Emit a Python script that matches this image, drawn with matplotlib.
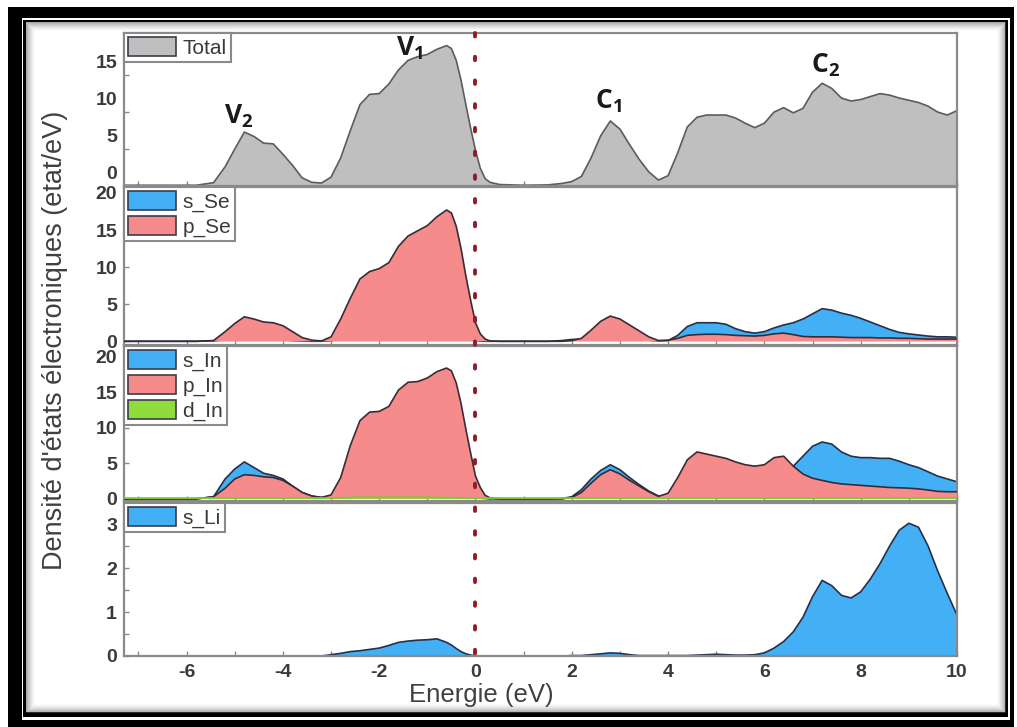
import matplotlib
matplotlib.use("Agg")
import matplotlib.pyplot as plt
from matplotlib.patches import Rectangle, Patch
from matplotlib.lines import Line2D
from matplotlib.ticker import MultipleLocator, FixedLocator
from matplotlib.transforms import ScaledTranslation, blended_transform_factory

plt.rcParams["font.family"] = ["Liberation Sans", "DejaVu Sans"]
plt.rcParams["axes.unicode_minus"] = False
plt.rcParams["mathtext.fontset"] = "custom"
plt.rcParams["mathtext.bf"] = "Open Sans:bold"
plt.rcParams["mathtext.rm"] = "Open Sans"

# ---------------- data ----------------
energy = [-7.3, -5.8, -5.44, -5.2, -5.0, -4.8, -4.6, -4.4, -4.2, -4.0,
          -3.8, -3.6, -3.4, -3.2, -3.0, -2.8, -2.6, -2.4, -2.2, -2.0,
          -1.8, -1.6, -1.4, -1.2, -1.0, -0.8, -0.6, -0.5, -0.4, -0.3,
          -0.2, -0.1, 0.0, 0.1, 0.2, 0.3, 0.5, 1.0, 1.5, 1.8,
          2.0, 2.2, 2.4, 2.6, 2.8, 3.0, 3.2, 3.4, 3.6, 3.8,
          4.0, 4.2, 4.4, 4.6, 4.8, 5.0, 5.2, 5.4, 5.6, 5.8,
          6.0, 6.2, 6.4, 6.6, 6.8, 7.0, 7.2, 7.4, 7.6, 7.8,
          8.0, 8.2, 8.4, 8.6, 8.8, 9.0, 9.2, 9.4, 9.6, 9.8, 10.0]

dos_total = [0.1, 0.1, 0.45, 2.6, 5.0, 7.3, 6.7, 5.8, 5.7, 4.3,
             2.8, 1.1, 0.5, 0.4, 1.2, 3.8, 7.5, 11.0, 12.4, 12.5,
             13.8, 15.7, 17.0, 17.5, 17.8, 18.5, 19.0, 18.6, 17.0, 14.3,
             11.0, 7.8, 4.8, 2.4, 1.0, 0.5, 0.2, 0.1, 0.15, 0.35,
             0.6, 1.3, 3.8, 6.8, 8.8, 7.7, 5.6, 3.6, 1.9, 0.8,
             1.4, 4.5, 8.0, 9.3, 9.6, 9.6, 9.6, 9.2, 8.5, 7.9,
             8.5, 10.0, 10.6, 9.9, 10.5, 12.7, 13.9, 13.2, 11.9, 11.5,
             11.7, 12.1, 12.5, 12.3, 11.9, 11.6, 11.3, 10.8, 10.0, 9.6, 10.2]

s_se = [0.0, 0.0, 0.05, 0.2, 0.3, 0.4, 0.35, 0.3, 0.3, 0.2,
        0.1, 0.05, 0.0, 0.0, 0.1, 0.3, 0.5, 0.6, 0.6, 0.5,
        0.4, 0.4, 0.4, 0.3, 0.3, 0.3, 0.3, 0.3, 0.3, 0.25,
        0.2, 0.15, 0.1, 0.05, 0.0, 0.0, 0.0, 0.0, 0.0, 0.1,
        0.25, 0.3, 0.3, 0.35, 0.4, 0.35, 0.3, 0.2, 0.15, 0.05,
        0.1, 0.8, 2.0, 2.5, 2.5, 2.5, 2.3, 1.7, 1.3, 1.1,
        1.3, 1.8, 2.2, 2.5, 3.0, 3.7, 4.4, 4.2, 3.8, 3.5,
        3.1, 2.6, 2.1, 1.6, 1.2, 1.0, 0.85, 0.7, 0.6, 0.6, 0.55]

p_se = [0.0, 0.0, 0.1, 1.3, 2.4, 3.3, 3.0, 2.6, 2.5, 2.1,
        1.3, 0.5, 0.15, 0.05, 0.6, 3.0, 5.8, 8.4, 9.4, 9.8,
        10.6, 12.8, 14.2, 14.9, 15.6, 16.8, 17.7, 17.3, 15.5, 12.5,
        8.8, 5.5, 2.5, 1.0, 0.3, 0.05, 0.0, 0.0, 0.0, 0.0,
        0.1, 0.4, 1.5, 2.7, 3.4, 3.0, 2.2, 1.4, 0.6, 0.1,
        0.15, 0.4, 0.8, 0.9, 0.95, 0.95, 0.9, 0.8, 0.75, 0.7,
        0.8, 1.0, 1.1, 0.9, 0.65, 0.6, 0.6, 0.6, 0.55, 0.5,
        0.5, 0.5, 0.45, 0.45, 0.4, 0.4, 0.35, 0.3, 0.3, 0.3, 0.3]

s_in = [0.0, 0.0, 0.3, 2.8, 4.2, 5.2, 4.4, 3.6, 3.3, 2.8,
        1.8, 0.9, 0.4, 0.2, 0.3, 0.5, 0.8, 1.0, 1.0, 1.0,
        1.0, 1.0, 1.0, 1.0, 1.0, 1.0, 1.0, 1.0, 0.9, 0.8,
        0.6, 0.4, 0.2, 0.1, 0.05, 0.0, 0.0, 0.0, 0.0, 0.05,
        0.3, 1.3, 2.8, 4.0, 4.8, 4.1, 3.0, 2.0, 1.1, 0.4,
        0.5, 1.0, 1.5, 1.8, 1.8, 1.8, 1.8, 1.9, 2.0, 2.2,
        2.5, 3.0, 3.8, 4.6, 6.0, 7.4, 8.0, 7.7, 6.6, 6.0,
        5.8, 5.8, 5.7, 5.7, 5.3, 4.8, 4.4, 3.8, 3.2, 2.8, 2.4]

p_in = [0.0, 0.0, 0.3, 1.5, 2.8, 3.4, 3.3, 3.1, 3.0, 2.6,
        1.8, 0.9, 0.4, 0.2, 0.56, 3.0, 7.5, 11.0, 12.2, 12.3,
        13.0, 15.3, 16.4, 16.5, 17.0, 17.9, 18.4, 18.0, 16.3, 13.4,
        9.8, 6.4, 3.2, 1.6, 0.5, 0.15, 0.0, 0.0, 0.0, 0.0,
        0.2, 0.9, 2.2, 3.4, 4.1, 3.5, 2.6, 1.8, 1.0, 0.35,
        0.8, 3.0, 5.5, 6.6, 6.3, 6.0, 5.7, 5.2, 4.8, 4.6,
        4.8, 5.8, 6.0, 4.6, 3.5, 2.9, 2.6, 2.3, 2.1, 2.0,
        1.9, 1.8, 1.7, 1.6, 1.55, 1.5, 1.4, 1.25, 1.05, 1.0, 1.0]

d_in = [0.12, 0.12, 0.12, 0.12, 0.12, 0.12, 0.12, 0.12, 0.12, 0.12,
        0.12, 0.12, 0.12, 0.12, 0.12, 0.15, 0.2, 0.22, 0.22, 0.22,
        0.22, 0.22, 0.22, 0.22, 0.22, 0.2, 0.18, 0.18, 0.16, 0.15,
        0.12, 0.12, 0.12, 0.12, 0.12, 0.12, 0.12, 0.12, 0.12, 0.12,
        0.12, 0.12, 0.12, 0.12, 0.12, 0.12, 0.12, 0.12, 0.12, 0.12,
        0.12, 0.12, 0.12, 0.12, 0.12, 0.12, 0.12, 0.12, 0.12, 0.12,
        0.12, 0.12, 0.12, 0.12, 0.12, 0.12, 0.12, 0.12, 0.12, 0.12,
        0.12, 0.12, 0.12, 0.12, 0.12, 0.12, 0.12, 0.12, 0.12, 0.12, 0.12]

s_li = [0.0, 0.0, 0.0, 0.0, 0.0, 0.0, 0.0, 0.0, 0.0, 0.0,
        0.0, 0.0, 0.0, 0.0, 0.03, 0.06, 0.1, 0.12, 0.15, 0.18,
        0.24, 0.31, 0.34, 0.36, 0.37, 0.39, 0.31, 0.25, 0.17, 0.1,
        0.05, 0.02, 0.01, 0.0, 0.0, 0.0, 0.0, 0.0, 0.0, 0.0,
        0.01, 0.01, 0.03, 0.05, 0.07, 0.06, 0.03, 0.01, 0.01, 0.01,
        0.01, 0.01, 0.01, 0.02, 0.03, 0.04, 0.03, 0.02, 0.02, 0.03,
        0.07, 0.18, 0.33, 0.55, 0.88, 1.35, 1.72, 1.6, 1.38, 1.32,
        1.46, 1.75, 2.1, 2.5, 2.86, 3.02, 2.93, 2.5, 1.93, 1.42, 0.93]

# peak annotations in the total DOS panel: (text, energy, height)
peak_names = ["V_2", "V_1", "C_1", "C_2"]
peak_energy = [-4.92, -1.37, 2.77, 7.27]
peak_height = [9.4, 18.7, 11.5, 16.3]

# ---------------- style ----------------
GRAY_FILL, GRAY_EDGE = "#bfbfbf", "#5c5c5c"
BLUE, PINK, GREEN = "#43b0f5", "#f68b8b", "#8fdc3c"
EDGE_DARK = "#26304a"
SPINE = "#8a8a8a"
TXT = "#3a3a3a"

W, H, DPI = 1017, 727, 100
fig = plt.figure(figsize=(W / DPI, H / DPI), dpi=DPI)
fig.patch.set_facecolor("white")


def fx(x):
    return x / W


def fy(y):
    return 1 - y / H


def frame_rect(x0, y0, x1, y1, **kw):
    r = Rectangle((fx(x0), fy(y1)), fx(x1) - fx(x0), fy(y0) - fy(y1),
                  transform=fig.transFigure, zorder=-10, **kw)
    fig.add_artist(r)


# double black border with an inner bevel shadow
frame_rect(8, 7, 1014, 727, facecolor="black", edgecolor="none")
frame_rect(22, 18, 1010, 720, facecolor="white", edgecolor="none")
frame_rect(23, 20, 1008, 717, facecolor="black", edgecolor="none")
frame_rect(26, 22, 1005, 712, facecolor="white", edgecolor="none")
for i in range(9):
    a = 0.5 * (1 - i / 9) ** 1.5
    frame_rect(26 + i, 22 + i, 1005 - i, 712 - i, facecolor="none",
               edgecolor=(0.35, 0.35, 0.35, a), linewidth=0.75)

# panel placement (pixel rows)
LEFT, RIGHT = 124, 957
rows = [(33, 186), (187, 345), (346, 501), (503, 656)]
axes = []
for top, bot in rows:
    ax = fig.add_axes([fx(LEFT), fy(bot), fx(RIGHT) - fx(LEFT), fy(top) - fy(bot)])
    axes.append(ax)

ylims = [(0, 20.7), (-0.5, 20.8), (-0.3, 21.5), (0, 3.48)]
for ax, yl in zip(axes, ylims):
    ax.set_xlim(-7.3, 10)
    ax.set_ylim(*yl)
    for s in ax.spines.values():
        s.set_color(SPINE)
        s.set_linewidth(1.6)
    ax.xaxis.set_major_locator(MultipleLocator(2))
    ax.xaxis.set_minor_locator(MultipleLocator(1))
    ax.tick_params(axis="both", which="both", direction="in", color=SPINE,
                   length=3.5, width=1.0, labelsize=14, labelcolor=TXT,
                   top=False, right=False)
    ax.tick_params(axis="y", pad=5)
    ax.tick_params(axis="x", pad=6)

for ax in axes[:3]:
    ax.tick_params(axis="x", labelbottom=False)

axes[0].yaxis.set_major_locator(FixedLocator([0, 5, 10, 15]))
axes[1].yaxis.set_major_locator(FixedLocator([0, 5, 10, 15, 20]))
axes[2].yaxis.set_major_locator(FixedLocator([0, 5, 10, 15, 20]))
axes[3].yaxis.set_major_locator(FixedLocator([0, 1, 2, 3]))
axes[3].yaxis.set_minor_locator(MultipleLocator(0.5))


def area(ax, y, face, edge, z):
    ax.fill_between(energy, 0, y, facecolor=face, edgecolor="none", zorder=z)
    ax.plot(energy, y, color=edge, linewidth=1.2, zorder=z + 0.1)


# total DOS
area(axes[0], dos_total, GRAY_FILL, GRAY_EDGE, 2)
# Se partial DOS
area(axes[1], s_se, BLUE, EDGE_DARK, 2)
area(axes[1], p_se, PINK, "#3a2b36", 3)
# In partial DOS
area(axes[2], s_in, BLUE, EDGE_DARK, 2)
area(axes[2], p_in, PINK, "#3a2b36", 3)
area(axes[2], d_in, GREEN, "#7cc832", 4)
# Li partial DOS
area(axes[3], s_li, BLUE, EDGE_DARK, 2)


def legend(ax, names, colors):
    handles = [Patch(facecolor=c, edgecolor="#3c3c4c", linewidth=1.2) for c in colors]
    leg = ax.legend(handles, names, loc="upper left", borderaxespad=0,
                    fontsize=15, handlelength=2.3, handleheight=1.0,
                    labelspacing=0.2, borderpad=0.2, handletextpad=0.3,
                    fancybox=False, framealpha=1, edgecolor=SPINE)
    leg.get_frame().set_linewidth(1.5)
    for t in leg.get_texts():
        t.set_color(TXT)
    leg.set_zorder(10)


legend(axes[0], ["Total"], [GRAY_FILL])
legend(axes[1], ["s_Se", "p_Se"], [BLUE, PINK])
legend(axes[2], ["s_In", "p_In", "d_In"], [BLUE, PINK, GREEN])
legend(axes[3], ["s_Li"], [BLUE])

# peak labels
for name, e, h in zip(peak_names, peak_energy, peak_height):
    axes[0].text(e, h, r"$\mathbf{%s}$" % name, ha="center", va="center",
                 fontsize=19, color="#1a1a1a", zorder=6)

# total panel tick labels sit slightly above their tick marks
shift = ScaledTranslation(0, 13.5 / DPI, fig.dpi_scale_trans)
for t in axes[0].yaxis.get_major_ticks():
    t.label1.set_transform(t.label1.get_transform() + shift)

# Fermi level marker across all panels
fermi = Line2D([0, 0], [fy(33), fy(656)],
               transform=blended_transform_factory(axes[3].transData, fig.transFigure),
               color="#8b1e2b", linewidth=2.8, linestyle=(0, (0.9, 5.2)),
               dash_capstyle="round", zorder=20)
fig.add_artist(fermi)

# axis titles
fig.text(fx(481), fy(695), "Energie (eV)", ha="center", va="center",
         fontsize=18.5, color="#404040")
fig.text(fx(55), fy(340), "Densité d'états électroniques (etat/eV)",
         ha="center", va="center", rotation=90, fontsize=19.5, color="#404040")

for ax in axes:
    for lab in ax.get_xticklabels() + ax.get_yticklabels():
        lab.set_fontweight("bold")

fig.savefig("out.png", dpi=DPI)
